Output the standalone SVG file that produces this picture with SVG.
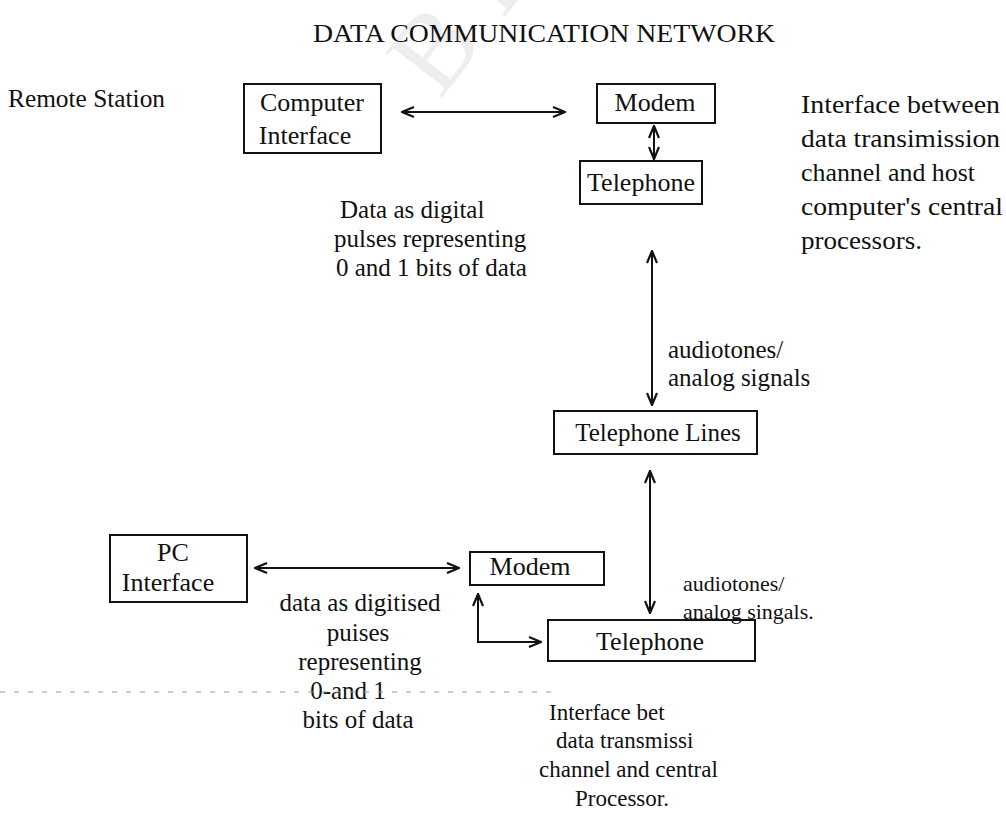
<svg xmlns="http://www.w3.org/2000/svg" width="1006" height="819" viewBox="0 0 1006 819" font-family="'Liberation Serif', 'Times New Roman', serif">
<style>
text{font-family:"Liberation Serif","Times New Roman",serif;fill:#111;font-size:26px}
.c{text-anchor:middle}
.s25{font-size:25px}
.s23{font-size:23px}
.s22{font-size:22px}
.box{fill:none;stroke:#111;stroke-width:2}
.ln{fill:none;stroke:#111;stroke-width:2}
.wm{fill:#eeeeee;font-size:110px}
</style>
<defs>
<marker id="ah" viewBox="0 0 14 12" refX="13" refY="6" markerWidth="14" markerHeight="12" orient="auto-start-reverse" markerUnits="userSpaceOnUse">
<path d="M1,1 L13,6 L1,11" fill="none" stroke="#111" stroke-width="2.2"/>
</marker>
</defs>
<rect width="1006" height="819" fill="#fff"/>
<text class="wm" transform="translate(440,100) rotate(-52)">B R</text>
<text x="313" y="42" font-size="26" textLength="462" lengthAdjust="spacingAndGlyphs">DATA COMMUNICATION NETWORK</text>
<text x="8" y="107" font-size="23" textLength="157" lengthAdjust="spacingAndGlyphs">Remote Station</text>

<g id="computer-interface">
<rect class="box" x="244" y="84" width="137" height="69"/>
<text class="c" x="312" y="111" font-size="27">Computer</text>
<text class="c" x="305" y="144">Interface</text>
</g>
<g id="modem-top">
<rect class="box" x="597" y="84" width="118" height="39"/>
<text class="c" x="655" y="111">Modem</text>
</g>
<g id="telephone-top">
<rect class="box" x="580" y="161" width="122" height="43"/>
<text class="c" x="641" y="191" font-size="24">Telephone</text>
</g>
<g id="telephone-lines">
<rect class="box" x="554" y="411" width="203" height="43"/>
<text class="c s25" x="658" y="441">Telephone Lines</text>
</g>
<g id="pc-interface">
<rect class="box" x="110" y="535" width="137" height="67"/>
<text class="c" x="173" y="561">PC</text>
<text class="c" x="168" y="591">Interface</text>
</g>
<g id="modem-bottom">
<rect class="box" x="470" y="552" width="134" height="33"/>
<text class="c" x="530" y="575">Modem</text>
</g>
<g id="telephone-bottom">
<rect class="box" x="548" y="620" width="207" height="41"/>
<text class="c" x="650" y="650" font-size="27">Telephone</text>
</g>

<g id="labels">
<text class="s25" x="340" y="218">Data as digital</text>
<text class="s25" x="334" y="247">pulses representing</text>
<text class="s25" x="336" y="276">0 and 1 bits of data</text>
<text x="801" y="113" textLength="199" lengthAdjust="spacingAndGlyphs">Interface between</text>
<text x="801" y="147" textLength="199" lengthAdjust="spacingAndGlyphs">data transimission</text>
<text x="801" y="181" textLength="174" lengthAdjust="spacingAndGlyphs">channel and host</text>
<text x="801" y="215" textLength="202" lengthAdjust="spacingAndGlyphs">computer's central</text>
<text x="801" y="249" textLength="121" lengthAdjust="spacingAndGlyphs">processors.</text>
<text class="s25" x="668" y="358">audiotones/</text>
<text class="s25" x="668" y="386">analog signals</text>
<text class="s22" x="683" y="591">audiotones/</text>
<text class="s22" x="683" y="619">analog singals.</text>
<text class="c s25" x="360" y="611">data as digitised</text>
<text class="c s25" x="358" y="641">puises</text>
<text class="c s25" x="360" y="670">representing</text>
<text class="c s25" x="348" y="699">0-and 1</text>
<text class="c s25" x="358" y="728">bits of data</text>
<text class="s23" x="549" y="720">Interface bet</text>
<text class="s23" x="556" y="748">data transmissi</text>
<text class="s23" x="539" y="777">channel and central</text>
<text class="c s23" x="622" y="806">Processor.</text>
</g>
<line x1="0" y1="692" x2="556" y2="692" stroke="#999" stroke-width="1" stroke-dasharray="5 9"/>

<g id="connectors">
<line class="ln" x1="402" y1="112" x2="565" y2="112" marker-start="url(#ah)" marker-end="url(#ah)"/>
<line class="ln" x1="654" y1="126" x2="654" y2="159" marker-start="url(#ah)" marker-end="url(#ah)"/>
<line class="ln" x1="652" y1="251" x2="652" y2="405" marker-start="url(#ah)" marker-end="url(#ah)"/>
<line class="ln" x1="650" y1="471" x2="650" y2="613" marker-start="url(#ah)" marker-end="url(#ah)"/>
<line class="ln" x1="255" y1="568" x2="459" y2="568" marker-start="url(#ah)" marker-end="url(#ah)"/>
<polyline class="ln" points="478,594 478,642 541,642" marker-start="url(#ah)" marker-end="url(#ah)"/>
</g>
</svg>
